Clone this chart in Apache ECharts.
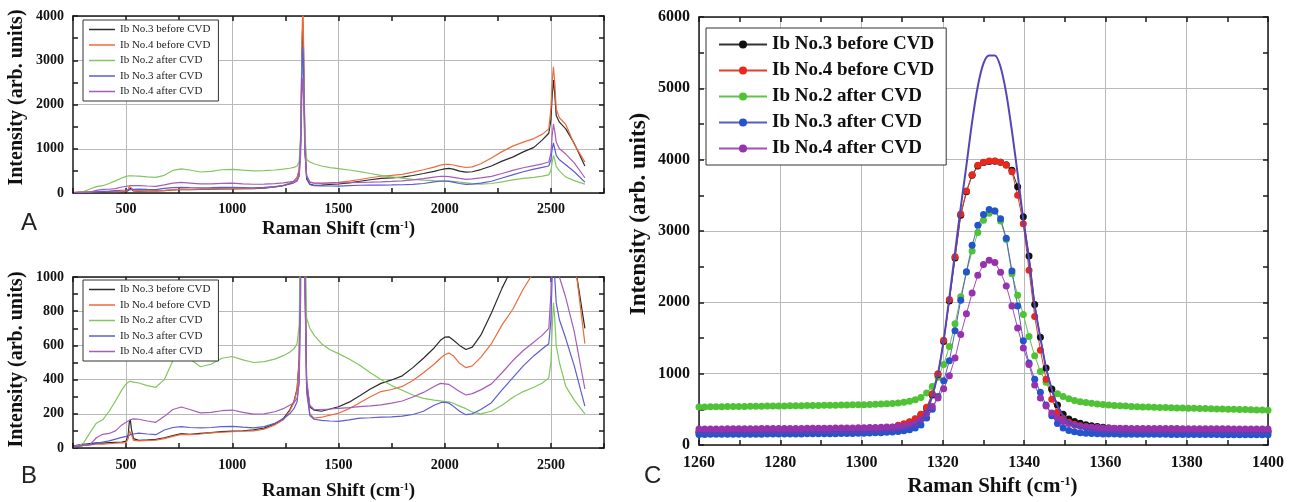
<!DOCTYPE html>
<html><head><meta charset="utf-8">
<script src="https://cdn.jsdelivr.net/npm/echarts@6/dist/echarts.min.js"></script>
<style>html,body{margin:0;padding:0;background:#fff}#c{width:1298px;height:502px}</style>
</head><body><div id="c"></div><script>
// ---------- Panels A & B: full spectra ----------
const ramanShift = [255,280,300,330,360,390,420,450,480,500,
  510,515,520,525,535,560,600,640,680,720,
  760,800,850,900,950,1000,1050,1100,1150,1200,
  1240,1270,1290,1305,1315,1322,1327,1330,1332,1334,
  1337,1342,1350,1365,1385,1420,1460,1500,1550,1600,
  1650,1700,1750,1800,1850,1900,1950,1980,2000,2020,
  2040,2070,2100,2130,2170,2220,2270,2320,2370,2420,
  2460,2490,2500,2506,2512,2518,2525,2540,2570,2610,
  2660];
const beforeHigh = [12,18,22,26,30,28,31,33,35,40,
  80,150,165,110,55,45,47,50,60,72,
  84,80,86,90,96,99,101,106,116,140,
  172,222,272,345,520,1250,3100,3900,4150,3950,
  2900,1100,380,240,222,215,228,241,268,305,
  345,378,398,422,470,525,585,630,648,650,
  632,600,576,590,660,790,935,1060,1150,1230,
  1330,1450,1900,2500,2850,2500,1900,1700,1550,1100,
  700];
const beforeLow = [8,12,15,18,22,22,25,28,30,32,
  55,100,110,80,45,42,45,46,55,68,
  80,78,82,88,92,95,98,100,110,135,
  165,215,265,340,510,1200,2900,3600,3850,3650,
  2700,1000,320,200,175,180,192,203,230,265,
  300,330,342,360,395,440,490,525,545,555,
  540,495,470,480,530,610,720,810,930,1030,
  1200,1350,1650,2200,2550,2250,1750,1600,1450,1120,
  610];
const no2After = [10,15,30,90,145,165,215,275,340,375,
  385,388,390,388,385,380,365,355,400,510,
  545,520,475,490,525,535,515,500,505,520,
  540,560,580,610,720,1350,2550,3100,3280,3100,
  2400,1300,760,700,660,610,575,552,520,484,
  440,400,365,338,310,290,280,276,272,270,
  262,245,230,210,200,215,250,295,330,355,
  380,410,500,700,850,760,600,500,360,280,
  200];
const no3After = [8,12,15,20,27,35,42,52,62,68,
  72,75,78,80,82,87,82,78,105,120,
  125,120,118,120,125,127,122,118,125,145,
  170,200,230,270,400,1100,2600,3200,3300,3100,
  2300,1000,350,190,168,162,158,156,165,175,
  177,180,182,186,196,215,250,265,268,262,
  245,215,195,200,225,265,340,410,480,540,
  580,610,750,1000,1130,1000,850,750,640,480,
  245];
const no4After = [5,10,15,20,60,80,85,100,135,150,
  158,162,165,168,170,168,158,150,185,225,
  240,225,205,208,218,222,208,198,200,212,
  230,250,265,290,380,900,2100,2500,2600,2450,
  1900,900,400,250,225,225,228,232,236,242,
  246,252,262,275,298,325,360,378,375,372,
  355,330,310,318,340,375,440,510,570,620,
  660,700,900,1300,1560,1400,1150,1000,880,680,
  345];

// ---------- Panel C: diamond peak zoom ----------
const cShift = [1260,1261.4,1262.8,1264.2,1265.6,1267,1268.4,1269.8,1271.2,1272.6,
  1274,1275.4,1276.8,1278.2,1279.6,1281,1282.4,1283.8,1285.2,1286.6,
  1288,1289.4,1290.8,1292.2,1293.6,1295,1296.4,1297.8,1299.2,1300.6,
  1302,1303.4,1304.8,1306.2,1307.6,1309,1310.4,1311.8,1313.2,1314.6,
  1316,1317.4,1318.8,1320.2,1321.6,1323,1324.4,1325.8,1327.2,1328.6,
  1330,1331.4,1332.8,1334.2,1335.6,1337,1338.4,1339.8,1341.2,1342.6,
  1344,1345.4,1346.8,1348.2,1349.6,1351,1352.4,1353.8,1355.2,1356.6,
  1358,1359.4,1360.8,1362.2,1363.6,1365,1366.4,1367.8,1369.2,1370.6,
  1372,1373.4,1374.8,1376.2,1377.6,1379,1380.4,1381.8,1383.2,1384.6,
  1386,1387.4,1388.8,1390.2,1391.6,1393,1394.4,1395.8,1397.2,1398.6,
  1400];
const cNo3Before = [175,176,177,178,179,180,181,182,183,184,
  185,186,187,188,189,190,191,192,193,194,
  195,196,197,198,200,202,204,206,209,212,
  216,221,227,235,246,262,285,318,362,425,
  520,700,990,1450,2020,2620,3220,3550,3780,3910,
  3960,3975,3978,3965,3930,3850,3620,3200,2650,1970,
  1510,1080,780,560,430,365,330,305,285,270,
  258,248,240,232,226,221,217,213,210,207,
  205,203,201,199,198,197,196,195,194,193,
  192,192,191,190,190,189,189,188,188,187,
  187];
const cNo4Before = [190,190,191,192,192,193,194,195,195,196,
  197,198,199,200,201,202,203,204,205,206,
  207,208,209,210,212,213,215,217,219,222,
  225,229,234,240,248,278,298,326,368,430,
  530,720,1000,1470,2040,2640,3240,3560,3790,3920,
  3965,3980,3980,3965,3920,3830,3500,3100,2450,1800,
  1330,920,640,460,370,320,290,270,255,245,
  238,232,227,222,218,215,212,210,208,206,
  205,204,203,202,201,200,200,199,199,198,
  198,197,197,196,196,195,195,194,194,193,
  193];
const cNo2After = [533,534,535,536,537,538,539,540,541,542,
  543,544,545,546,547,548,549,550,551,552,
  553,554,556,557,558,560,561,563,564,566,
  568,571,574,578,583,590,600,614,635,665,
  730,820,950,1130,1380,1700,2080,2420,2720,2980,
  3150,3250,3280,3140,2880,2400,2100,1830,1520,1250,
  1030,880,790,720,680,650,625,608,595,585,
  575,567,560,554,549,545,541,537,534,531,
  528,526,524,522,520,518,516,514,512,510,
  508,506,504,502,500,498,496,494,492,490,
  488];
const cNo3After = [148,148,149,149,150,150,150,151,151,152,
  152,152,153,153,154,154,154,155,155,156,
  156,157,157,158,159,160,161,162,163,165,
  167,170,173,177,182,190,200,215,240,280,
  380,500,680,900,1180,1600,2030,2430,2800,3080,
  3230,3300,3280,3170,2900,2440,1950,1460,1150,920,
  740,560,410,300,240,205,185,172,165,160,
  157,155,154,153,152,151,151,150,150,150,
  149,149,149,148,148,148,147,147,147,146,
  146,146,145,145,145,144,144,144,143,143,
  143];
const cNo4After = [224,225,225,226,226,227,227,228,228,229,
  229,230,230,231,231,232,232,233,233,234,
  234,235,235,236,237,238,239,240,241,242,
  244,246,248,251,254,258,265,280,310,360,
  440,540,660,790,970,1220,1550,1840,2130,2380,
  2530,2590,2560,2420,2230,1950,1640,1360,1130,840,
  660,545,450,380,330,300,280,265,255,248,
  244,240,238,236,235,234,233,233,232,232,
  231,231,230,230,230,229,229,229,228,228,
  228,227,227,227,226,226,226,225,225,225,
  225];
const cFit = [158,158,159,159,160,160,160,161,161,162,
  162,162,163,163,164,164,164,165,165,166,
  166,167,167,168,169,170,171,172,174,176,
  178,181,185,190,197,207,222,245,282,345,
  460,690,1000,1470,2070,2700,3330,3920,4530,5030,
  5350,5460,5460,5300,4930,4400,3800,3150,2600,1950,
  1500,1080,780,550,410,320,270,240,220,205,
  192,186,182,178,175,173,171,170,169,168,
  167,166,166,165,165,164,164,163,163,162,
  162,161,161,160,160,159,159,158,158,157,
  157];

const legendNames = ['Ib No.3 before CVD','Ib No.4 before CVD','Ib No.2 after CVD','Ib No.3 after CVD','Ib No.4 after CVD'];
const abColors = ['#2b2b2b','#ee6a3c','#82c65e','#5c5cd4','#a65cbb'];
const cColors = ['#111111','#e8281c','#4fc236','#2454cc','#9632ad'];
const cLineColors = ['#333333','#e0402c','#62c24c','#5a5ac8','#a050b8'];

const SERIF = "'Liberation Serif','Times New Roman',serif";
const GRIDC = '#b9b9b9';
const HIDE = 'rgba(0,0,0,0)';
const pairs = (xs, ys) => xs.map((x, i) => [x, ys[i]]);

function xMain(g, min, max, iv, every, colors, fs, margin, gap, nfs, shift) {
  return {gridIndex: g, type: 'value', min: min, max: max, interval: iv, position: 'bottom',
    axisLine: {show: true, onZero: false, lineStyle: {color: '#1a1a1a', width: 1.5}},
    axisTick: {show: true, inside: true, length: 5, lineStyle: {color: '#1a1a1a', width: 1.5}},
    axisLabel: {formatter: v => (v % every === 0 ? String(v) : ''),
      color: '#111', fontFamily: SERIF, fontWeight: 'bold', fontSize: fs, margin: margin},
    splitLine: {show: true, lineStyle: {color: colors, width: 1}},
    name: 'Raman Shift (cm{sup|-1})', nameLocation: 'middle', nameGap: gap,
    nameTextStyle: {fontFamily: SERIF, fontWeight: 'bold', fontSize: nfs, color: '#111',
      padding: [0, 0, 0, shift || 0],
      rich: {sup: {fontFamily: SERIF, fontWeight: 'bold', fontSize: Math.round(nfs * 0.55), color: '#111', verticalAlign: 'top', lineHeight: nfs * 0.6}}}
  };
}
function yMain(g, max, iv, every, colors, fs, gap, nfs, shift) {
  return {gridIndex: g, type: 'value', min: 0, max: max, interval: iv, position: 'left',
    axisLine: {show: true, onZero: false, lineStyle: {color: '#1a1a1a', width: 1.5}},
    axisTick: {show: true, inside: true, length: 5, lineStyle: {color: '#1a1a1a', width: 1.5}},
    axisLabel: {formatter: v => (v % every === 0 ? String(v) : ''),
      color: '#111', fontFamily: SERIF, fontWeight: 'bold', fontSize: fs, margin: 9},
    splitLine: {show: true, lineStyle: {color: colors, width: 1}},
    name: 'Intensity (arb. units)', nameLocation: 'middle', nameGap: gap,
    nameTextStyle: {fontFamily: SERIF, fontWeight: 'bold', fontSize: nfs, color: '#111',
      padding: [0, 0, 0, shift || 0]}
  };
}
function mirror(g, min, max, iv, pos) {
  return {gridIndex: g, type: 'value', min: min, max: max, interval: iv, position: pos,
    axisLine: {show: true, onZero: false, lineStyle: {color: '#1a1a1a', width: 1.5}},
    axisTick: {show: true, inside: true, length: 5, lineStyle: {color: '#1a1a1a', width: 1.5}},
    axisLabel: {show: false}, splitLine: {show: false}};
}

const abSeries = (prefix, g, data) => data.map((d, i) => ({
  name: prefix + legendNames[i], type: 'line', xAxisIndex: g, yAxisIndex: g,
  data: pairs(ramanShift, d), symbol: 'none', color: abColors[i],
  lineStyle: {width: 1.2, color: abColors[i]}, clip: true, z: 3
}));

const seriesA = abSeries('A|', 0, [beforeLow, beforeHigh, no2After, no3After, no4After]);
const seriesB = abSeries('B|', 2, [beforeHigh, beforeLow, no2After, no3After, no4After]);
const cData = [cNo3Before, cNo4Before, cNo2After, cNo3After, cNo4After];
const drawOrder = [2, 0, 1, 3, 4];
const seriesC = drawOrder.map(i => ({
  name: 'C|' + legendNames[i], type: 'line', xAxisIndex: 4, yAxisIndex: 4,
  data: pairs(cShift, cData[i]), symbol: 'circle', symbolSize: 7, showSymbol: true,
  color: cColors[i], itemStyle: {color: cColors[i]},
  lineStyle: {width: 1, color: cLineColors[i]}, clip: true, z: 3
}));
seriesC.push({name: 'C|fit', type: 'line', xAxisIndex: 4, yAxisIndex: 4,
  data: pairs(cShift, cFit), symbol: 'none', smooth: 0.3, color: '#5546b8',
  lineStyle: {width: 2, color: '#5546b8'}, clip: true, z: 4});

const legendAB = (prefix, top) => ({
  orient: 'vertical', left: 83, top: top, data: legendNames.map(n => prefix + n),
  formatter: n => n.slice(2), selectedMode: false,
  backgroundColor: '#fff', borderColor: '#333', borderWidth: 1, padding: [4, 8, 4, 6],
  icon: 'rect', itemWidth: 26, itemHeight: 1.5, itemGap: 4.5,
  textStyle: {fontFamily: SERIF, fontSize: 11, color: '#222'}
});

const option = {
  animation: false,
  backgroundColor: '#fff',
  textStyle: {fontFamily: SERIF},
  grid: [
    {left: 73, top: 16, width: 531, height: 177},
    {left: 73, top: 277, width: 531, height: 171},
    {left: 699, top: 17, width: 569, height: 428}
  ],
  xAxis: [
    xMain(0, 250, 2750, 250, 500, [HIDE, GRIDC], 14, 9, 27, 19),
    mirror(0, 250, 2750, 250, 'top'),
    xMain(1, 250, 2750, 250, 500, [HIDE, GRIDC], 14, 10, 34, 19),
    mirror(1, 250, 2750, 250, 'top'),
    xMain(2, 1260, 1400, 10, 20, [GRIDC, HIDE], 16, 10, 27, 21, 18),
    mirror(2, 1260, 1400, 10, 'top')
  ],
  yAxis: [
    yMain(0, 4000, 500, 1000, [GRIDC, HIDE], 14, 46, 20, 14),
    mirror(0, 0, 4000, 500, 'right'),
    yMain(1, 1000, 100, 200, [GRIDC, HIDE], 14, 46, 20, 6),
    mirror(1, 0, 1000, 100, 'right'),
    yMain(2, 6000, 500, 1000, [GRIDC, HIDE], 16, 48, 23, 34),
    mirror(2, 0, 6000, 500, 'right')
  ],
  legend: [
    legendAB('A|', 20),
    legendAB('B|', 280),
    {orient: 'vertical', left: 706, top: 28, data: legendNames.map(n => 'C|' + n),
      formatter: n => n.slice(2), selectedMode: false,
      backgroundColor: '#fff', borderColor: '#333', borderWidth: 1, padding: [7, 12, 7, 12],
      itemWidth: 48, itemHeight: 10, itemGap: 7,
      textStyle: {fontFamily: SERIF, fontSize: 19, fontWeight: 'bold', color: '#111'}}
  ],
  graphic: [
    {type: 'text', left: 21, top: 211, style: {text: 'A', font: "24px 'Liberation Sans', Arial, sans-serif", fill: '#222'}},
    {type: 'text', left: 21, top: 464, style: {text: 'B', font: "24px 'Liberation Sans', Arial, sans-serif", fill: '#222'}},
    {type: 'text', left: 644, top: 464, style: {text: 'C', font: "24px 'Liberation Sans', Arial, sans-serif", fill: '#222'}}
  ],
  series: [...seriesA, ...seriesB, ...seriesC]
};
const chart = echarts.init(document.getElementById('c'), null, {renderer: 'canvas'});
chart.setOption(option);
</script></body></html>
